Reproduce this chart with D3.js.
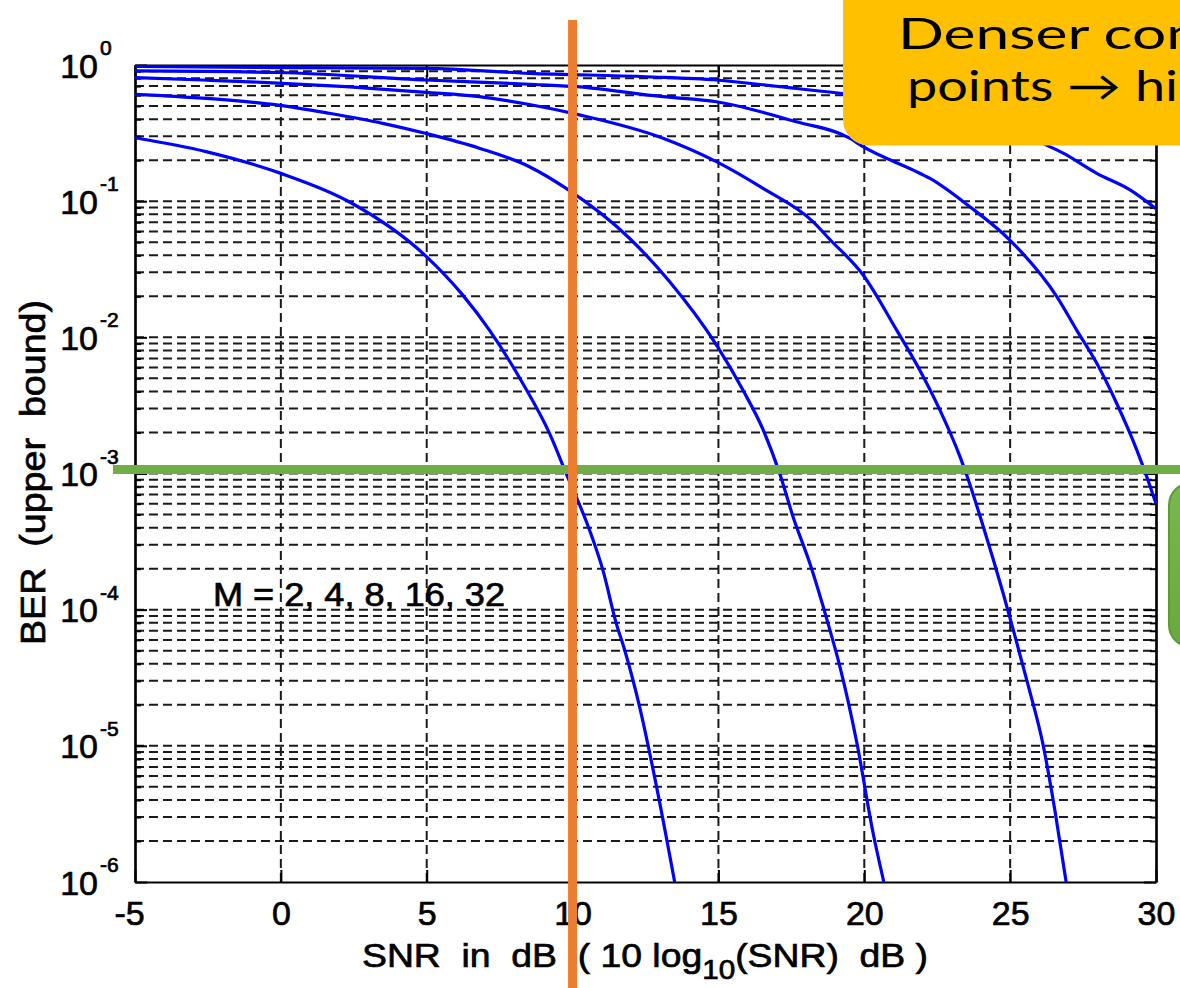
<!DOCTYPE html>
<html>
<head>
<meta charset="utf-8">
<script src="https://cdn.jsdelivr.net/npm/d3@7"></script>
<style>
  html, body { margin: 0; padding: 0; background: #ffffff; overflow: hidden; }
  svg { display: block; }
  text { font-family: "Liberation Sans", Arial, Helvetica, sans-serif; fill: #000; }
  .heavy { stroke: #000; stroke-width: 0.7px; paint-order: stroke; }
  .callout { font-family: Lato, "Noto Sans", "DejaVu Sans", sans-serif; }
</style>
</head>
<body>
<svg id="chart" width="1180" height="988"></svg>
<script>
// ---- axis values ----
const snrTicks = [-5, 0, 5, 10, 15, 20, 25, 30];
const berDecadeExponents = [0, -1, -2, -3, -4, -5, -6];
const modOrders = [2, 4, 8, 16, 32];

// ---- BER upper bound curves: [SNR (dB), BER] ----
const berM2 = [
  [-5, 0.292], [-2.57, 0.231], [0, 0.160], [2.34, 0.099], [5, 0.039],
  [6.23, 0.0205], [7.15, 0.0113], [8.29, 0.0046], [9.21, 0.00197],
  [9.78, 0.00100], [10.58, 3.85e-4], [11.04, 1.95e-4], [11.5, 7.9e-5],
  [11.78, 5.1e-5], [12.27, 2.05e-5], [12.88, 5.0e-6], [13.5, 1.0e-6]
];
const berM4 = [
  [-5, 0.609], [-4.06, 0.595], [-1.77, 0.553], [-0.09, 0.508], [1.66, 0.442],
  [3.49, 0.373], [4.95, 0.315], [6.8, 0.245], [8.52, 0.179], [9.78, 0.124],
  [11.95, 0.0534], [13.33, 0.0256], [14.93, 0.0088], [15.84, 0.0041],
  [16.53, 0.0021], [17.1, 1.0e-3], [17.56, 4.8e-4], [18.13, 2.2e-4],
  [18.82, 7.1e-5], [19.14, 4.0e-5], [19.75, 1.04e-5], [20.3, 2.3e-6],
  [20.67, 1.0e-6]
];
const berM8 = [
  [-5, 0.807], [-2.69, 0.776], [-0.63, 0.746], [2.23, 0.693], [4.98, 0.630],
  [6.8, 0.585], [8.52, 0.513], [10.24, 0.430], [13.1, 0.290], [14.93, 0.195],
  [16.53, 0.124], [18.24, 0.0707], [18.82, 0.0523], [19.96, 0.0287],
  [21.11, 0.0113], [21.9, 0.00576], [22.59, 0.00293], [23.28, 0.00133],
  [23.45, 0.00106], [24.08, 4.07e-4], [24.76, 1.32e-4], [25.14, 6.7e-5],
  [25.63, 2.72e-5], [26.12, 1.04e-5], [26.55, 3.2e-6], [26.92, 1.0e-6]
];
const berM16 = [
  [-5, 0.904], [-0.06, 0.881], [4.98, 0.776], [8.52, 0.722], [10.12, 0.693],
  [13.1, 0.585], [14.93, 0.537], [17.67, 0.383], [19.5, 0.290], [19.96, 0.251],
  [21.68, 0.169], [22.25, 0.147], [23.62, 0.091], [24.99, 0.0518],
  [26.6, 0.0199], [27.28, 0.0113], [27.97, 0.00644], [28.65, 0.00328],
  [29.34, 0.00149], [29.68, 9.5e-4], [30, 6.0e-4]
];
const berM32 = [
  [-5, 0.975], [0, 0.958], [5, 0.946], [8.52, 0.869], [12.53, 0.820],
  [14.93, 0.776], [17.1, 0.693], [19.16, 0.620], [21.2, 0.540], [24.0, 0.380],
  [25.8, 0.290], [26.13, 0.266], [26.82, 0.225], [27.97, 0.160],
  [29.11, 0.121], [30, 0.088]
];
const curves = [berM2, berM4, berM8, berM16, berM32];

// reference markers drawn over the plot
const markerSNR = 10;
const markerBER = 1.07e-3;

// ---- layout ----
const W = 1180, H = 988;
const plot = { left: 135, right: 1156, top: 65, bottom: 882 };

const svg = d3.select("#chart");
const defs = svg.append("defs");

const x = d3.scaleLinear().domain([-5, 30]).range([plot.left, plot.right]);
const y = d3.scaleLog().domain([1e-6, 1]).range([plot.bottom, plot.top]);

defs.append("clipPath").attr("id", "plotClip")
  .append("rect")
  .attr("x", plot.left - 2).attr("y", plot.top - 2)
  .attr("width", plot.right - plot.left + 4)
  .attr("height", plot.bottom - plot.top + 4);

// ---- dashed grid ----
const gridColor = "#1a1a1a";
const gridDash = "9,5";
const yGridValues = y.ticks().filter(v => v < 0.99 && v > 1.01e-6);

svg.append("g").attr("class", "grid-h")
  .selectAll("line").data(yGridValues).join("line")
  .attr("x1", plot.left).attr("x2", plot.right)
  .attr("y1", d => y(d)).attr("y2", d => y(d))
  .attr("stroke", gridColor).attr("stroke-width", 2)
  .attr("stroke-dasharray", gridDash);

svg.append("g").attr("class", "grid-v")
  .selectAll("line").data(snrTicks.slice(1, -1)).join("line")
  .attr("x1", d => x(d)).attr("x2", d => x(d))
  .attr("y1", plot.bottom).attr("y2", plot.top)
  .attr("stroke", gridColor).attr("stroke-width", 2)
  .attr("stroke-dasharray", gridDash);

// ---- axes (ticks inward, box on all four sides) ----
const decadeValues = berDecadeExponents.map(e => Math.pow(10, e));
const minorValues = yGridValues.filter(v => !decadeValues.some(d => Math.abs(Math.log10(v) - Math.log10(d)) < 1e-6));

function styleAxis(g) {
  g.selectAll("path.domain").attr("stroke", "#000").attr("stroke-width", 2.2);
  g.selectAll(".tick line").attr("stroke", "#000").attr("stroke-width", 2);
}

const xAxisBottom = svg.append("g")
  .attr("transform", `translate(0,${plot.bottom})`)
  .call(d3.axisBottom(x).tickValues(snrTicks).tickSizeInner(-12).tickSizeOuter(0)
    .tickPadding(19).tickFormat(d => String(d)))
  .call(styleAxis);
xAxisBottom.selectAll(".tick text")
  .attr("class", "heavy")
  .attr("font-size", 34).attr("font-family", null).attr("fill", "#000");
xAxisBottom.selectAll(".tick")
  .filter(d => d < 0)
  .select("text").attr("dx", -6);

svg.append("g")
  .attr("transform", `translate(0,${plot.top})`)
  .call(d3.axisTop(x).tickValues(snrTicks).tickSizeInner(-12).tickSizeOuter(0).tickFormat(""))
  .call(styleAxis);

svg.append("g")
  .attr("transform", `translate(${plot.left},0)`)
  .call(d3.axisLeft(y).tickValues(decadeValues).tickSizeInner(-12).tickSizeOuter(0).tickFormat(""))
  .call(styleAxis);
svg.append("g")
  .attr("transform", `translate(${plot.left},0)`)
  .call(d3.axisLeft(y).tickValues(minorValues).tickSizeInner(-6).tickSizeOuter(0).tickFormat(""))
  .call(styleAxis);

svg.append("g")
  .attr("transform", `translate(${plot.right},0)`)
  .call(d3.axisRight(y).tickValues(decadeValues).tickSizeInner(-12).tickSizeOuter(0).tickFormat(""))
  .call(styleAxis);
svg.append("g")
  .attr("transform", `translate(${plot.right},0)`)
  .call(d3.axisRight(y).tickValues(minorValues).tickSizeInner(-6).tickSizeOuter(0).tickFormat(""))
  .call(styleAxis);

// y tick labels as 10^e
const yLabels = svg.append("g").attr("class", "y-labels");
berDecadeExponents.forEach(e => {
  const yy = y(Math.pow(10, e));
  yLabels.append("text").attr("class", "heavy")
    .attr("x", 98).attr("y", yy + 12.5)
    .attr("text-anchor", "end").attr("font-size", 34)
    .text("10");
  yLabels.append("text").attr("class", "heavy")
    .attr("x", 100).attr("y", yy - 10)
    .attr("text-anchor", "start").attr("font-size", 21)
    .text(String(e));
});

// ---- curves ----
const line = d3.line()
  .x(d => x(d[0]))
  .y(d => y(d[1]))
  .curve(d3.curveMonotoneX);

svg.append("g").attr("clip-path", "url(#plotClip)")
  .selectAll("path").data(curves).join("path")
  .attr("d", line)
  .attr("fill", "none")
  .attr("stroke", "#0000ff")
  .attr("stroke-width", 3.2)
  .attr("stroke-linejoin", "round");

// ---- text labels ----
svg.append("text").attr("class", "heavy")
  .attr("x", 213).attr("y", 606)
  .attr("font-size", 33)
  .attr("textLength", 292).attr("lengthAdjust", "spacingAndGlyphs")
  .text("M = " + modOrders.join(", "));

const xTitle = svg.append("text").attr("class", "heavy")
  .attr("x", 362).attr("y", 967)
  .attr("font-size", 34)
  .attr("xml:space", "preserve")
  .attr("textLength", 566).attr("lengthAdjust", "spacingAndGlyphs");
xTitle.append("tspan").text("SNR  in  dB  ( 10 log");
xTitle.append("tspan").attr("font-size", 27).attr("dy", 12).text("10");
xTitle.append("tspan").attr("dy", -12).text("(SNR)  dB )");

svg.append("text").attr("class", "heavy")
  .attr("transform", `translate(45,${(300 + 645) / 2}) rotate(-90)`)
  .attr("text-anchor", "middle")
  .attr("font-size", 35)
  .attr("xml:space", "preserve")
  .attr("textLength", 345).attr("lengthAdjust", "spacingAndGlyphs")
  .text("BER  (upper  bound)");

// ---- overlay markers ----
svg.append("line")
  .attr("x1", plot.left - 22).attr("x2", W)
  .attr("y1", y(markerBER)).attr("y2", y(markerBER))
  .attr("stroke", "#70ad47").attr("stroke-width", 9);

svg.append("line")
  .attr("x1", x(markerSNR)).attr("x2", x(markerSNR))
  .attr("y1", 20).attr("y2", H)
  .attr("stroke", "#ed7d31").attr("stroke-width", 9);

// ---- callout boxes at right edge ----
const gGrad = defs.append("linearGradient").attr("id", "greenFill")
  .attr("x1", 0).attr("y1", 0).attr("x2", 0).attr("y2", 1);
gGrad.append("stop").attr("offset", "0%").attr("stop-color", "#7ab84f");
gGrad.append("stop").attr("offset", "100%").attr("stop-color", "#69a83f");

svg.append("rect")
  .attr("x", 1169).attr("y", 483).attr("width", 80).attr("height", 164)
  .attr("rx", 22).attr("ry", 22)
  .attr("fill", "url(#greenFill)").attr("stroke", "#5e9a38").attr("stroke-width", 2);

svg.append("rect")
  .attr("x", 843).attr("y", -60).attr("width", 420).attr("height", 205.5)
  .attr("rx", 26).attr("ry", 26)
  .attr("fill", "#ffc000");

svg.append("text").attr("class", "callout")
  .attr("x", 898).attr("y", 49)
  .attr("font-size", 42)
  .attr("textLength", 302).attr("lengthAdjust", "spacingAndGlyphs")
  .text("Denser con");

svg.append("text").attr("class", "callout")
  .attr("x", 907).attr("y", 101)
  .attr("font-size", 42)
  .attr("textLength", 271).attr("lengthAdjust", "spacingAndGlyphs")
  .text("points \u2192 hi");
</script>
</body>
</html>
